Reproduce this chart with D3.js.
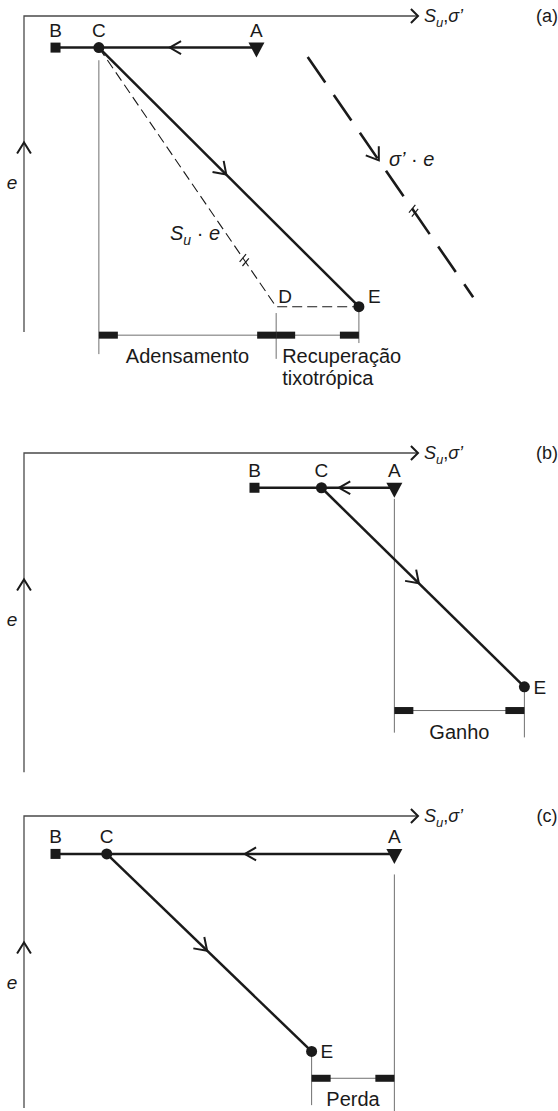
<!DOCTYPE html>
<html>
<head>
<meta charset="utf-8">
<script src="https://cdn.jsdelivr.net/npm/d3@7"></script>
<style>
    body { margin: 0; background: #fff; }
    svg { display: block; }
    text { font-family: "Liberation Sans", Arial, sans-serif; fill: #1a1a1a; }
</style>
</head>
<body>
<svg id="chart" width="558" height="1111"></svg>
<script>
"use strict"

//--------------------------------------//
//----------------DATA------------------//
//--------------------------------------//

// panel tags, and the e value where each vertical axis stops
const panelNames = ["(a)", "(b)", "(c)"];
const axisBottomE = [0, -1, 7.6];

// points as [Su/sigma' , e], one entry per panel
const pointA = [[59, 90], [94, 89], [94, 88]];
const pointB = [[8, 90], [58.5, 89], [8, 88]];
const pointC = [[19, 90], [75.5, 89], [21, 88]];
const pointE = [[85, 8], [127, 26], [73, 25.5]];

// only in panel (a): the Su.e path ends in D, and the sigma'.e line
const pointD = [64, 8];
const sigmaLine = [[72, 87], [114, 11]];

// where the arrows sit along A->C and C->E (share of the segment)
const arrowOnAC = [0.55, 0.76, 0.52];
const arrowOnCE = [0.49, 0.48, 0.49];

// thin vertical guides: [x, e top, e bottom]
const guides = [
    [[19, 86, -7], [64, 6, -8.5], [85, 8, -3.5]],
    [[94, 85.5, 11.5], [127, 26, 10]],
    [[94, 81.5, 6], [73, 25.5, 8.5]]
];

// dimension lines: e level, spans [x0, x1] and their labels
const dimE = [-1, 18.5, 17];
const dimSpans = [[[19, 64], [64, 85]], [[94, 127]], [[73, 94]]];
const dimLabels = [["Adensamento", null], ["Ganho"], ["Perda"]];
const sideLabel = ["Recuperação", "tixotrópica"];

//--------------------------------------//
//---------------LAYOUT-----------------//
//--------------------------------------//

const panelTop = [16, 453, 816];
const unitH = 316;

const svg = d3.select("#chart");
const x = d3.scaleLinear().domain([0, 100]).range([24, 418]);

const ink = "#1a1a1a";
const axisInk = "#4a4a4a";
const guideInk = "#707070";

//draws an open chevron whose tip is at (tx,ty), pointing along ang
function chevron(g, tx, ty, ang, len, half, width, color) {
    const pts = [
        [tx - len * Math.cos(ang - half), ty - len * Math.sin(ang - half)],
        [tx, ty],
        [tx - len * Math.cos(ang + half), ty - len * Math.sin(ang + half)]
    ];
    g.append("path")
        .attr("d", d3.line()(pts))
        .attr("fill", "none")
        .attr("stroke", color)
        .attr("stroke-width", width)
        .attr("stroke-linejoin", "miter");
}

//two short strokes across a line, marking it as parallel to another
function hash(g, px, py, ang) {
    [-2.5, 2.5].forEach(o => {
        const cx = px + o * Math.cos(ang);
        const cy = py + o * Math.sin(ang);
        const a = ang - 1.85;
        g.append("line")
            .attr("x1", cx - 5 * Math.cos(a)).attr("y1", cy - 5 * Math.sin(a))
            .attr("x2", cx + 5 * Math.cos(a)).attr("y2", cy + 5 * Math.sin(a))
            .attr("stroke", ink)
            .attr("stroke-width", 1.2);
    });
}

//S_u,sigma' label next to the horizontal axis
function axisLabel(g, px, py) {
    const t = g.append("text").attr("x", px).attr("y", py + 6).attr("font-size", 18);
    t.append("tspan").attr("font-style", "italic").text("S");
    t.append("tspan").attr("font-style", "italic").attr("font-size", 13).attr("dy", 5).text("u");
    t.append("tspan").attr("dy", -5).text(",");
    t.append("tspan").attr("font-style", "italic").text("σ’");
}

panelNames.forEach((name, i) => {

    const top = panelTop[i];
    const y = d3.scaleLinear().domain([0, 100]).range([top + unitH, top]);
    const g = svg.append("g").attr("id", "panel_" + i);

    const A = pointA[i], B = pointB[i], C = pointC[i], E = pointE[i];

    //--------axes--------
    g.append("path")
        .attr("d", d3.line()([[x(100), y(100)], [x(0), y(100)], [x(0), y(axisBottomE[i])]]))
        .attr("fill", "none")
        .attr("stroke", axisInk)
        .attr("stroke-width", 1.3);

    chevron(g, x(100), y(100), 0, 10, Math.PI / 4, 2, ink);
    chevron(g, x(0), y(60), -Math.PI / 2, 13, 0.56, 2, ink);

    axisLabel(g, x(100) + 6, y(100));

    g.append("text")
        .attr("x", 547).attr("y", y(100) + 6)
        .attr("font-size", 18)
        .attr("text-anchor", "middle")
        .text(name);

    g.append("text")
        .attr("x", 12).attr("y", y(47) + 6)
        .attr("font-size", 19)
        .attr("font-style", "italic")
        .attr("text-anchor", "middle")
        .text("e");

    //--------guides and dimension line--------
    guides[i].forEach(d => {
        g.append("line")
            .attr("x1", x(d[0])).attr("x2", x(d[0]))
            .attr("y1", y(d[1])).attr("y2", y(d[2]))
            .attr("stroke", guideInk)
            .attr("stroke-width", 1);
    });

    const dy = y(dimE[i]);
    dimSpans[i].forEach((s, k) => {
        const x0 = x(s[0]), x1 = x(s[1]);
        g.append("line")
            .attr("x1", x0).attr("x2", x1)
            .attr("y1", dy).attr("y2", dy)
            .attr("stroke", guideInk)
            .attr("stroke-width", 1);
        [x0, x1 - 19].forEach(bx => {
            g.append("rect")
                .attr("x", bx).attr("y", dy - 3.5)
                .attr("width", 19).attr("height", 7)
                .attr("fill", ink);
        });
        const label = dimLabels[i][k];
        if (label) {
            g.append("text")
                .attr("x", (x0 + x1) / 2).attr("y", dy + 28)
                .attr("font-size", 20)
                .attr("text-anchor", "middle")
                .text(label);
        }
    });

    if (i === 0) {
        sideLabel.forEach((s, k) => {
            g.append("text")
                .attr("x", x(pointD[0]) + 6).attr("y", dy + 28 + k * 22)
                .attr("font-size", 20)
                .text(s);
        });

        //--------Su.e path: C -> D -> E (thin dashes)--------
        g.append("path")
            .attr("d", d3.line()([[x(C[0]), y(C[1])], [x(pointD[0]), y(pointD[1])], [x(E[0]), y(E[1])]]))
            .attr("fill", "none")
            .attr("stroke", ink)
            .attr("stroke-width", 1.1)
            .attr("stroke-dasharray", "10,5");

        const angSu = Math.atan2(y(pointD[1]) - y(C[1]), x(pointD[0]) - x(C[0]));
        const tSu = 0.82;
        hash(g, x(C[0]) + tSu * (x(pointD[0]) - x(C[0])), y(C[1]) + tSu * (y(pointD[1]) - y(C[1])), angSu);

        const su = g.append("text").attr("x", 170).attr("y", 240).attr("font-size", 20);
        su.append("tspan").attr("font-style", "italic").text("S");
        su.append("tspan").attr("font-style", "italic").attr("font-size", 14).attr("dy", 5).text("u");
        su.append("tspan").attr("dy", -5).text(" · ");
        su.append("tspan").attr("font-style", "italic").text("e");

        g.append("text")
            .attr("x", x(pointD[0]) + 2).attr("y", y(pointD[1]) - 4)
            .attr("font-size", 19)
            .text("D");

        //--------sigma'.e line (long dashes)--------
        const s0 = [x(sigmaLine[0][0]), y(sigmaLine[0][1])];
        const s1 = [x(sigmaLine[1][0]), y(sigmaLine[1][1])];
        g.append("path")
            .attr("d", d3.line()([s0, s1]))
            .attr("stroke", ink)
            .attr("stroke-width", 2.6)
            .attr("stroke-dasharray", "31,15");

        const angSg = Math.atan2(s1[1] - s0[1], s1[0] - s0[0]);
        const tArr = 0.43, tHash = 0.64;
        chevron(g, s0[0] + tArr * (s1[0] - s0[0]), s0[1] + tArr * (s1[1] - s0[1]), angSg, 14, 0.6, 2, ink);
        hash(g, s0[0] + tHash * (s1[0] - s0[0]), s0[1] + tHash * (s1[1] - s0[1]), angSg);

        const sg = g.append("text").attr("x", 389).attr("y", 166).attr("font-size", 20);
        sg.append("tspan").attr("font-style", "italic").text("σ’");
        sg.append("tspan").text(" · ");
        sg.append("tspan").attr("font-style", "italic").text("e");
    }

    //--------main path: B - C - A horizontal, C -> E diagonal--------
    g.append("line")
        .attr("x1", x(B[0])).attr("x2", x(A[0]))
        .attr("y1", y(B[1])).attr("y2", y(A[1]))
        .attr("stroke", ink)
        .attr("stroke-width", 2.5);

    g.append("line")
        .attr("x1", x(C[0])).attr("x2", x(E[0]))
        .attr("y1", y(C[1])).attr("y2", y(E[1]))
        .attr("stroke", ink)
        .attr("stroke-width", 2.5);

    //arrow from A towards C
    const th = arrowOnAC[i];
    chevron(g, x(A[0]) + th * (x(C[0]) - x(A[0])), y(A[1]), Math.PI, 13, 0.52, 2, ink);

    //arrow from C towards E
    const td = arrowOnCE[i];
    const angCE = Math.atan2(y(E[1]) - y(C[1]), x(E[0]) - x(C[0]));
    chevron(g, x(C[0]) + td * (x(E[0]) - x(C[0])), y(C[1]) + td * (y(E[1]) - y(C[1])), angCE, 14, 0.6, 2, ink);

    //--------markers--------
    g.append("rect")
        .attr("x", x(B[0]) - 5).attr("y", y(B[1]) - 5)
        .attr("width", 10).attr("height", 10)
        .attr("fill", ink);

    g.append("path")
        .attr("d", d3.line()([[x(A[0]) - 8, y(A[1]) - 5], [x(A[0]) + 8, y(A[1]) - 5], [x(A[0]), y(A[1]) + 10]]) + "Z")
        .attr("fill", ink);

    [C, E].forEach(p => {
        g.append("circle")
            .attr("cx", x(p[0])).attr("cy", y(p[1]))
            .attr("r", 5.5)
            .attr("fill", ink);
    });

    //--------point labels--------
    [["A", A], ["B", B], ["C", C]].forEach(([t, p]) => {
        g.append("text")
            .attr("x", x(p[0])).attr("y", y(p[1]) - 11)
            .attr("font-size", 19)
            .attr("text-anchor", "middle")
            .text(t);
    });

    g.append("text")
        .attr("x", x(E[0]) + 9).attr("y", y(E[1]) + (i === 0 ? -4 : 7))
        .attr("font-size", 19)
        .text("E");
});
</script>
</body>
</html>
